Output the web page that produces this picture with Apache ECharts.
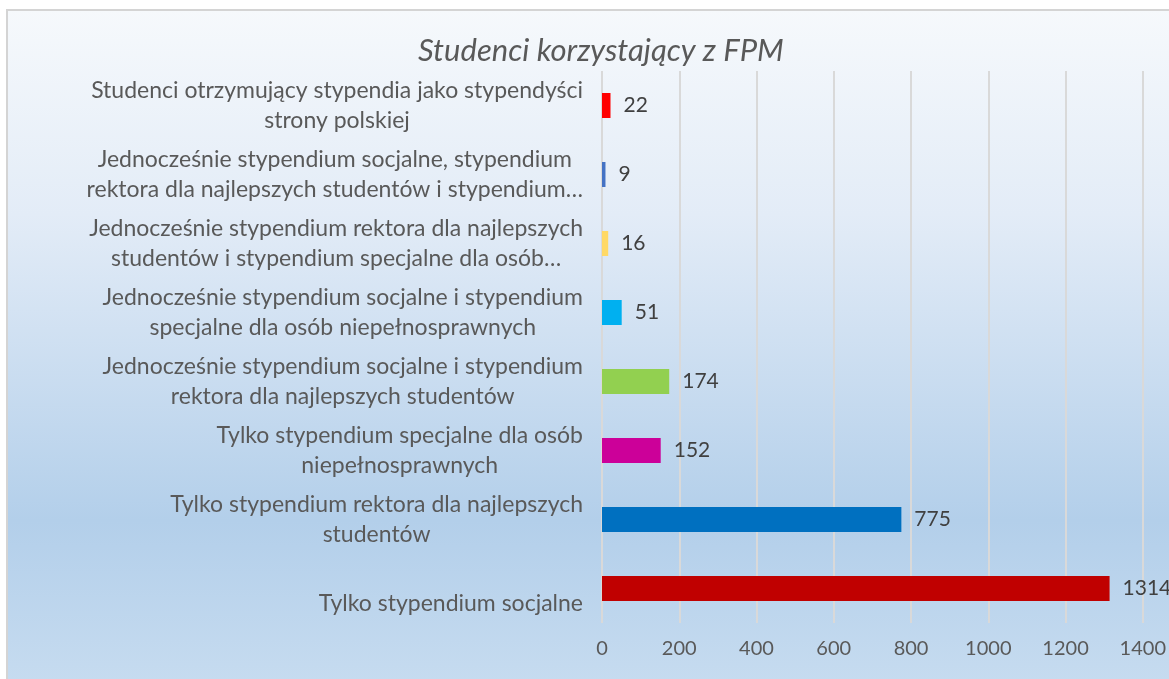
<!DOCTYPE html>
<html lang="pl">
<head>
	<meta charset="UTF-8">
	<title>Studenci korzystający z FPM</title>
	<script src="https://cdn.jsdelivr.net/npm/echarts@6/dist/echarts.min.js"></script>
	<style>
		html,body{height:100%;margin:0;background:#fff;}
	</style>
</head>
<body>
	<div id="chart" style="width:1169px; height:679px;"></div>
<script>
	// kategorie (od dołu do góry, jak na osi)
	var categories=[
		'Tylko stypendium socjalne',
		'Tylko stypendium rektora dla najlepszych\nstudentów',
		'Tylko stypendium specjalne dla osób\nniepełnosprawnych',
		'Jednocześnie stypendium socjalne i stypendium\nrektora dla najlepszych studentów',
		'Jednocześnie stypendium socjalne i stypendium\nspecjalne dla osób niepełnosprawnych',
		'Jednocześnie stypendium rektora dla najlepszych\nstudentów i stypendium specjalne dla osób…',
		'Jednocześnie stypendium socjalne, stypendium\nrektora dla najlepszych studentów i stypendium…',
		'Studenci otrzymujący stypendia jako stypendyści\nstrony polskiej'
	];
	var values=[1314,775,152,174,51,16,9,22];
	var colors=['#c00000','#0070c0','#cc0099','#92d050','#00b0f0','#ffd966','#4472c4','#ff0000'];
	var ticks=[0,200,400,600,800,1000,1200,1400];

	var font='Lato';
	var myChart=echarts.init(document.getElementById('chart'));
	var option={
		animation:false,
		graphic:[{
			type:'rect',
			z:-10,
			shape:{x:7,y:10,width:1170,height:680},
			style:{
				fill:new echarts.graphic.LinearGradient(0,0,0,1,[
					{offset:0,color:'#f6f9fc'},
					{offset:0.3,color:'#e3ecf7'},
					{offset:0.75,color:'#b3cfea'},
					{offset:1,color:'#c7dcf0'}
				]),
				stroke:'#d4d4d4',
				lineWidth:2
			}
		}],
		title:{
			text:'Studenci korzystający z FPM',
			left:413,
			top:30,
			textStyle:{fontFamily:font,fontStyle:'italic',fontWeight:'normal',fontSize:31,color:'#595959'}
		},
		grid:{left:602,right:26,top:71,bottom:56,containLabel:false},
		xAxis:{
			type:'value',
			min:ticks[0],
			max:ticks[ticks.length-1],
			interval:200,
			axisLine:{show:false},
			axisTick:{show:false},
			splitLine:{lineStyle:{color:'#d9d9d9',width:2}},
			axisLabel:{
				fontFamily:font,fontSize:20,color:'#595959',margin:16,
				formatter:function(v){return String(v)}
			}
		},
		yAxis:{
			type:'category',
			data:categories,
			axisLine:{show:false},
			axisTick:{show:false},
			axisLabel:{
				margin:19,
				fontFamily:font,
				fontSize:23,
				lineHeight:30,
				color:'#595959',
				formatter:function(v,i){
					var s=v.split('\n').map(function(t){return '{c|'+t+'}'}).join('\n');
					// w oryginale pojedyncza etykieta na dole jest obniżona
					return i===0 ? '\n'+s : s;
				},
				rich:{c:{align:'center',fontFamily:font,fontSize:23,lineHeight:30,color:'#595959'}}
			}
		},
		series:[{
			type:'bar',
			barWidth:25,
			data:values.map(function(v,i){
				return {value:v,itemStyle:{color:colors[i]}};
			}),
			label:{
				show:true,
				position:'right',
				distance:13,
				fontFamily:font,
				fontSize:21,
				color:'#404040'
			}
		}]
	};
	myChart.setOption(option);
</script>
</body>
</html>
